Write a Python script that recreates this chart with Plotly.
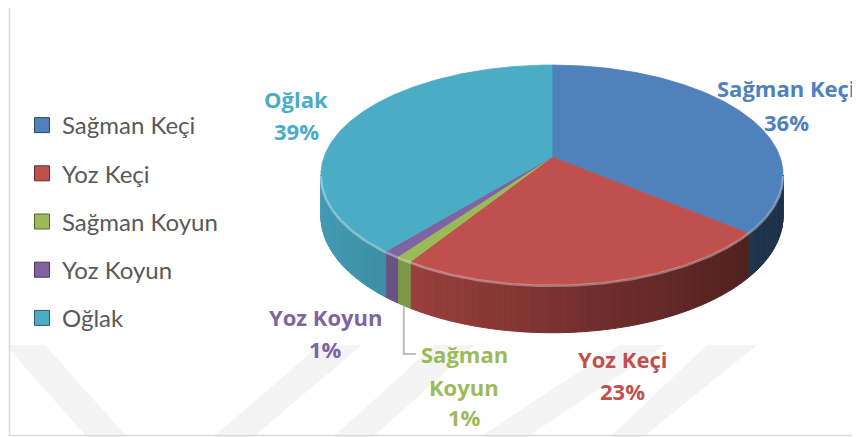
import numpy as np
import plotly.graph_objects as go

# ---------------- data ----------------
categories = ["Sağman Keçi", "Yoz Keçi", "Sağman Koyun", "Yoz Koyun", "Oğlak"]
values = [36, 23, 1, 1, 39]
colors = ["#4F81BD", "#C0504D", "#9BBB59", "#8064A2", "#4BACC6"]

# label placement (window pixels): centre x, y of each text line
label_x = [786, 622, 464, 325, 296]
label_lines_y = [[88, 122], [359, 391], [354, 387, 417], [317, 349], [99, 131]]
label_split = [False, False, True, False, False]

# ---------------- geometry (window pixel space) ----------------
W, H = 860, 437
OFF = 8                # browser body margin: figure is drawn at (8, 8) in the window
CX, CY = 552, 157      # pie centre (apex of slices)
RX, RY = 228, 107      # radii
P = 0.1636             # perspective factor
DEPTH = 40             # thickness


def proj(theta_deg, z=0.0):
    t = np.radians(np.asarray(theta_deg, dtype=float))
    X, Y = np.sin(t), np.cos(t)
    d = 1 + P * Y
    return CX + RX * X / d, CY - RY * Y / d + z / d


def hex_rgb(h):
    h = h.lstrip("#")
    return [int(h[i:i + 2], 16) for i in (0, 2, 4)]


def shade(hexc, f):
    r, g, b = hex_rgb(hexc)
    return "rgb(%d,%d,%d)" % (min(255, r * f), min(255, g * f), min(255, b * f))


total = float(sum(values))
cum = np.concatenate([[0], np.cumsum(values)]) / total * 360.0
vis_lo = np.degrees(np.arccos(-P))
vis_hi = 360 - vis_lo
x_left, x_right = CX - RX / np.sqrt(1 - P * P), CX + RX / np.sqrt(1 - P * P)

fig = go.Figure()

# legend entries
for name, c in zip(categories, colors):
    fig.add_trace(go.Scatter(
        x=[None], y=[None], mode="markers", name=name, legendgroup=name,
        marker=dict(symbol="square", size=15, color=c,
                    line=dict(color=shade(c, 0.55), width=1)),
        showlegend=True))

# side walls (front half), drawn as shaded strips
for i, c in enumerate(colors):
    a0, a1 = cum[i], cum[i + 1]
    lo, hi = max(a0, vis_lo), min(a1, vis_hi)
    if lo >= hi:
        continue
    n = int(np.ceil((hi - lo) / 1.5))
    edges = np.linspace(lo, hi, n + 1)
    for s, e in zip(edges[:-1], edges[1:]):
        th = np.linspace(s, e, 4)
        xt, yt = proj(th)
        xb, yb = proj(th[::-1], DEPTH)
        xs = np.concatenate([xt, xb, xt[:1]])
        ys = np.concatenate([yt, yb, yt[:1]])
        xm = float(np.mean(xt))
        t = (x_right - xm) / (x_right - x_left)
        f = 0.38 + 0.52 * t
        col = shade(c, f)
        fig.add_trace(go.Scatter(
            x=xs, y=ys, mode="lines", fill="toself", fillcolor=col,
            line=dict(color=col, width=1), hoverinfo="skip", showlegend=False))

# top faces
for i, (name, v, c) in enumerate(zip(categories, values, colors)):
    a0, a1 = cum[i], cum[i + 1]
    th = np.linspace(a0, a1, max(3, int((a1 - a0) / 0.5) + 1))
    xa, ya = proj(th)
    xs = np.concatenate([[CX], xa, [CX]])
    ys = np.concatenate([[CY], ya, [CY]])
    fig.add_trace(go.Scatter(
        x=xs, y=ys, mode="lines", fill="toself", fillcolor=c,
        line=dict(color=c, width=0.8), name=name, legendgroup=name,
        showlegend=False,
        hovertemplate="%s: %d%%<extra></extra>" % (name, round(v / total * 100))))

# rim highlight (bevel)
th = np.linspace(vis_lo, vis_hi, 200)
xr, yr = proj(th)
fig.add_trace(go.Scatter(x=xr, y=yr + 1, mode="lines",
                         line=dict(color="rgba(255,255,255,0.35)", width=2.5),
                         hoverinfo="skip", showlegend=False))

# leader line for Sağman Koyun
k = 2
mid = (cum[k] + cum[k + 1]) / 2
lx, ly = proj(mid, DEPTH)
yl = label_lines_y[k][0]
fig.add_trace(go.Scatter(x=[float(lx), float(lx), float(lx) + 12],
                         y=[float(ly), yl, yl], mode="lines",
                         line=dict(color="#BFBFBF", width=2),
                         hoverinfo="skip", showlegend=False))

# data labels
annotations = []
for i, (name, v, c) in enumerate(zip(categories, values, colors)):
    parts = name.split(" ") if label_split[i] else [name]
    parts = parts + ["%d%%" % round(v / total * 100)]
    for txt, yy in zip(parts, label_lines_y[i]):
        annotations.append(dict(
            x=label_x[i], y=yy, xref="x", yref="y", text=txt, showarrow=False,
            xanchor="center", yanchor="middle",
            font=dict(family="Open Sans", size=22, color=c, weight="bold")))

# watermark bands and frame
shapes = []
bands = [
    [(5, 345), (45, 345), (127, 437), (87, 437)],
    [(320, 345), (362, 345), (253, 437), (213, 437)],
    [(435, 345), (475, 345), (373, 437), (333, 437)],
    [(620, 345), (665, 345), (527, 437), (480, 437)],
    [(707, 345), (757, 345), (643, 437), (610, 437)],
]
for b in bands:
    path = "M " + " L ".join("%g,%g" % p for p in b) + " Z"
    shapes.append(dict(type="path", path=path, xref="x", yref="y",
                       fillcolor="#F4F4F4", line=dict(width=0), layer="below"))
shapes.append(dict(type="rect", xref="x", yref="y", x0=9.5, y0=2.5, x1=880, y1=435.5,
                   line=dict(color="#D9D9D9", width=1.5), layer="below"))

fig.update_layout(
    width=W, height=H,
    margin=dict(l=0, r=0, t=0, b=0),
    paper_bgcolor="white", plot_bgcolor="white",
    xaxis=dict(range=[OFF, OFF + W], visible=False, fixedrange=True),
    yaxis=dict(range=[OFF + H, OFF], visible=False, fixedrange=True),
    showlegend=True,
    legend=dict(x=14 / W, y=1 - 95 / H, xanchor="left", yanchor="top",
                font=dict(family="Lato", size=24, color="#595959"),
                itemwidth=30, tracegroupgap=14, bgcolor="rgba(0,0,0,0)"),
    annotations=annotations,
    shapes=shapes,
)

fig.write_html("out.html")
